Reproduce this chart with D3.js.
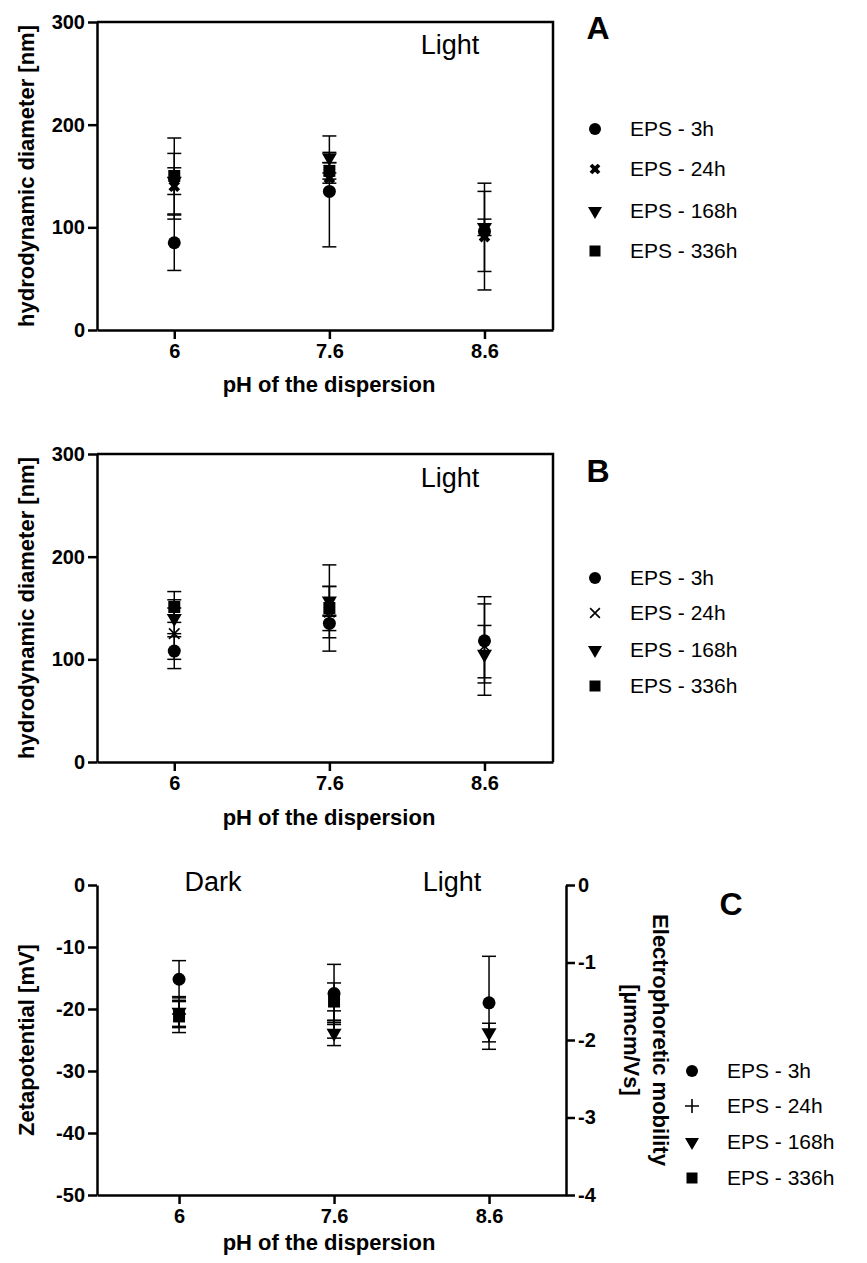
<!DOCTYPE html>
<html><head><meta charset="utf-8">
<script src="https://cdn.jsdelivr.net/npm/d3@7"></script>
<style>
body{margin:0;background:#fff;}
svg{display:block;font-family:"Liberation Sans",Arial,sans-serif;}
</style></head>
<body><svg id="c" width="867" height="1263"></svg>
<script>
// ---------- data ----------
const categories = ["6", "7.6", "8.6"];
const seriesNames = ["EPS - 3h", "EPS - 24h", "EPS - 168h", "EPS - 336h"];

// Panel A (hydrodynamic diameter, nm)
const aMean3h = [85, 135, 96],   aErr3h = [27, 54, 39];
const aMean24h = [140, 148, 91], aErr24h = [32, 5, 52];
const aMean168h = [145, 168, 100], aErr168h = [13, 5, 8];
const aMean336h = [150, 155, null], aErr336h = [37, 8, null];

// Panel B (hydrodynamic diameter, nm)
const bMean3h = [108, 135, 118], bErr3h = [17, 7, 36];
const bMean24h = [125, 146, 113], bErr24h = [25, 25, 48];
const bMean168h = [140, 157, 105], bErr168h = [18, 14, 28];
const bMean336h = [151, 150, null], bErr336h = [15, 42, null];

// Panel C (zetapotential, mV)
const cMean3h = [-15.2, -17.5, -19], cErr3h = [3, 4.7, 7.5];
const cMean24h = [-20.8, -22.5, null], cErr24h = [2, 2.2, null];
const cMean168h = [-20.5, -23.9, -23.8], cErr168h = [2.5, 2, 1.5];
const cMean336h = [-21.2, -18.8, null], cErr336h = [2.6, 3, null];

const diamTicks = [0, 100, 200, 300];
const zetaTicks = [0, -10, -20, -30, -40, -50];
const mobilityTicks = [0, -1, -2, -3, -4];

// ---------- drawing ----------
const svg = d3.select("#c");
const AX = 2.5;

function markerPath(kind, s) {
  if (kind === "circle") return d3.symbol(d3.symbolCircle, s * s * 0.785)();
  if (kind === "square") return d3.symbol(d3.symbolSquare, s * s)();
  if (kind === "tri") return d3.symbol(d3.symbolTriangle, s * s * 0.5)();
  if (kind === "xbold") return d3.symbol(d3.symbolCross, s * s * 0.5)();
  return "";
}
function drawMarker(g, kind, cx, cy, s) {
  if (kind === "xthin" || kind === "plus") {
    const h = s / 2;
    const p = kind === "plus"
      ? `M${cx - h},${cy}H${cx + h}M${cx},${cy - h}V${cy + h}`
      : `M${cx - h * 0.75},${cy - h * 0.75}L${cx + h * 0.75},${cy + h * 0.75}M${cx - h * 0.75},${cy + h * 0.75}L${cx + h * 0.75},${cy - h * 0.75}`;
    g.append("path").attr("d", p).attr("stroke", "#000").attr("stroke-width", 1.6).attr("fill", "none");
    return;
  }
  let rot = 0;
  if (kind === "tri") rot = 180;
  if (kind === "xbold") rot = 45;
  g.append("path").attr("d", markerPath(kind, s))
    .attr("transform", `translate(${cx},${cy}) rotate(${rot})`)
    .attr("fill", "#000");
}

function styleAxis(g) {
  g.selectAll(".domain").attr("stroke-width", AX).attr("stroke", "#000");
  g.selectAll(".tick line").attr("stroke-width", AX).attr("stroke", "#000");
  g.selectAll(".tick text").attr("font-size", 20).attr("font-weight", "bold")
    .attr("font-family", "'Liberation Sans', Arial, sans-serif").attr("fill", "#000");
}

function panel(o) {
  const g = svg.append("g");
  const x = d3.scalePoint().domain(categories).range([o.left, o.right]).padding(o.pad).align(o.align);
  const y = d3.scaleLinear().domain(o.yDomain).range([o.bottom, o.top]);

  const series = o.series;
  series.forEach(s => {
    s.mean.forEach((m, i) => {
      if (m == null) return;
      const cx = x(categories[i]);
      const e = s.err[i];
      const y1 = y(m - e), y2 = y(m + e);
      g.append("line").attr("x1", cx).attr("x2", cx).attr("y1", y1).attr("y2", y2)
        .attr("stroke", "#000").attr("stroke-width", 1.5);
      [y1, y2].forEach(yy => g.append("line").attr("x1", cx - 7).attr("x2", cx + 7)
        .attr("y1", yy).attr("y2", yy).attr("stroke", "#000").attr("stroke-width", 1.5));
    });
  });
  series.forEach(s => {
    s.mean.forEach((m, i) => {
      if (m == null) return;
      drawMarker(g, s.kind, x(categories[i]), y(m), s.size);
    });
  });

  const ya = g.append("g").attr("transform", `translate(${o.left},0)`)
    .call(d3.axisLeft(y).tickValues(o.yTicks).tickSize(9).tickPadding(3).tickSizeOuter(0).tickFormat(d => String(d)));
  styleAxis(ya);
  const xa = g.append("g").attr("transform", `translate(0,${o.bottom})`)
    .call(d3.axisBottom(x).tickSize(9).tickPadding(5).tickSizeOuter(0));
  styleAxis(xa);
  if (o.box) {
    g.append("path").attr("d", `M${o.left},${o.top}H${o.right}V${o.bottom}`)
      .attr("fill", "none").attr("stroke", "#000").attr("stroke-width", AX);
  }
  if (o.y2Domain) {
    const y2 = d3.scaleLinear().domain(o.y2Domain).range([o.bottom, o.top]);
    const ra = g.append("g").attr("transform", `translate(${o.right},0)`)
      .call(d3.axisRight(y2).tickValues(o.y2Ticks).tickSize(9).tickPadding(3).tickSizeOuter(0).tickFormat(d => String(d)));
    styleAxis(ra);
  }

  g.append("text").attr("transform", `translate(34,${(o.top + o.bottom) / 2}) rotate(-90)`)
    .attr("text-anchor", "middle").attr("font-size", 22).attr("font-weight", "bold").text(o.yTitle);
  g.append("text").attr("x", 329).attr("y", o.xTitleY).attr("text-anchor", "middle")
    .attr("font-size", 22).attr("font-weight", "bold").text("pH of the dispersion");

  series.forEach((s, i) => {
    const ly = o.legY[i];
    drawMarker(g, s.kind, o.legX, ly, s.legSize);
    g.append("text").attr("x", o.legX + 35).attr("y", ly + 7).attr("font-size", 21).text(seriesNames[i]);
  });
  return g;
}

// Panel A
panel({
  left: 97, right: 553, top: 22, bottom: 330, pad: 0.47, align: 0.53,
  yDomain: [0, 300], yTicks: diamTicks, box: true,
  yTitle: "hydrodynamic diameter [nm]", xTitleY: 392,
  legX: 595, legY: [129, 169, 211, 251],
  series: [
    {mean: aMean3h, err: aErr3h, kind: "circle", size: 13, legSize: 12},
    {mean: aMean24h, err: aErr24h, kind: "xbold", size: 13, legSize: 12},
    {mean: aMean168h, err: aErr168h, kind: "tri", size: 14, legSize: 13},
    {mean: aMean336h, err: aErr336h, kind: "square", size: 12, legSize: 11}
  ]
});
svg.append("text").attr("x", 450).attr("y", 54).attr("text-anchor", "middle").attr("font-size", 27).text("Light");
svg.append("text").attr("x", 598).attr("y", 39).attr("text-anchor", "middle").attr("font-size", 32).attr("font-weight", "bold").text("A");

// Panel B
panel({
  left: 97, right: 553, top: 454, bottom: 762, pad: 0.47, align: 0.53,
  yDomain: [0, 300], yTicks: diamTicks, box: true,
  yTitle: "hydrodynamic diameter [nm]", xTitleY: 825,
  legX: 595, legY: [578, 613, 650, 686],
  series: [
    {mean: bMean3h, err: bErr3h, kind: "circle", size: 13, legSize: 12},
    {mean: bMean24h, err: bErr24h, kind: "xthin", size: 14, legSize: 13},
    {mean: bMean168h, err: bErr168h, kind: "tri", size: 14, legSize: 13},
    {mean: bMean336h, err: bErr336h, kind: "square", size: 12, legSize: 11}
  ]
});
svg.append("text").attr("x", 450).attr("y", 487).attr("text-anchor", "middle").attr("font-size", 27).text("Light");
svg.append("text").attr("x", 598).attr("y", 482).attr("text-anchor", "middle").attr("font-size", 32).attr("font-weight", "bold").text("B");

// Panel C
panel({
  left: 97, right: 566, top: 885, bottom: 1195, pad: 0.513, align: 0.516,
  yDomain: [-50, 0], yTicks: zetaTicks, box: false,
  y2Domain: [-4, 0], y2Ticks: mobilityTicks,
  yTitle: "Zetapotential [mV]", xTitleY: 1250,
  legX: 692, legY: [1071, 1106, 1142, 1178],
  series: [
    {mean: cMean3h, err: cErr3h, kind: "circle", size: 13, legSize: 12},
    {mean: cMean24h, err: cErr24h, kind: "plus", size: 14, legSize: 14},
    {mean: cMean168h, err: cErr168h, kind: "tri", size: 14, legSize: 13},
    {mean: cMean336h, err: cErr336h, kind: "square", size: 12, legSize: 11}
  ]
});
const rt = svg.append("text").attr("transform", "translate(653,1040) rotate(90)")
  .attr("text-anchor", "middle").attr("font-size", 22).attr("font-weight", "bold");
rt.append("tspan").attr("x", 0).attr("dy", 0).text("Electrophoretic mobility");
rt.append("tspan").attr("x", 0).attr("dy", 29).text("[µmcm/Vs]");
svg.append("text").attr("x", 213).attr("y", 891).attr("text-anchor", "middle").attr("font-size", 27).text("Dark");
svg.append("text").attr("x", 452).attr("y", 891).attr("text-anchor", "middle").attr("font-size", 27).text("Light");
svg.append("text").attr("x", 731).attr("y", 915).attr("text-anchor", "middle").attr("font-size", 32).attr("font-weight", "bold").text("C");
</script></body></html>
